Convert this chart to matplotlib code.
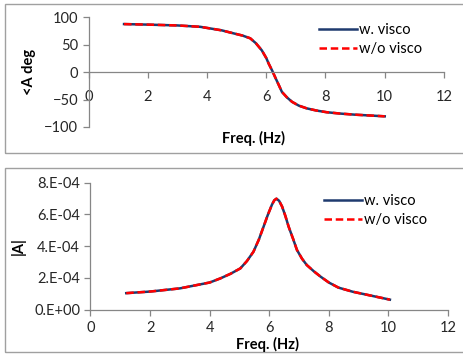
import numpy as np
import matplotlib
matplotlib.use("Agg")
import matplotlib.pyplot as plt
from matplotlib.patches import Rectangle
from matplotlib.ticker import FuncFormatter

# values
freq_phase = [1.2, 2.0, 3.0, 3.77, 4.5, 4.9, 5.2, 5.46, 5.65, 5.85, 6.0, 6.08, 6.2,
              6.3, 6.42, 6.53, 6.7, 6.87, 7.1, 7.37, 7.7, 8.04, 8.5, 9.0, 9.5, 10.0]
phase_visco = [88, 87, 85.5, 83, 76.5, 71, 67, 62, 53, 40, 26, 16, 3,
               -9, -23, -36, -46, -54, -61, -66, -70, -73, -75.5, -77.5, -79, -80.5]
phase_novisco = phase_visco

freq_amp = [1.2, 2.0, 3.0, 4.0, 4.36, 4.7, 5.03, 5.25, 5.47, 5.65, 5.81, 5.95, 6.09,
            6.17, 6.24, 6.33, 6.43, 6.54, 6.65, 6.8, 6.93, 7.1, 7.26, 7.5, 7.73,
            8.0, 8.32, 8.8, 9.3, 9.7, 10.05]
amp_visco = [1.03e-4, 1.13e-4, 1.33e-4, 1.7e-4, 1.96e-4, 2.25e-4, 2.59e-4, 3.05e-4,
             3.64e-4, 4.4e-4, 5.22e-4, 5.95e-4, 6.6e-4, 6.88e-4, 6.98e-4, 6.85e-4,
             6.49e-4, 5.9e-4, 5.22e-4, 4.45e-4, 3.75e-4, 3.2e-4, 2.8e-4, 2.4e-4,
             2.06e-4, 1.7e-4, 1.38e-4, 1.12e-4, 0.92e-4, 0.76e-4, 0.62e-4]
amp_novisco = amp_visco

series_names = ["w. visco", "w/o visco"]

W, H = 464, 356
fig = plt.figure(figsize=(W / 100, H / 100), dpi=100)
plt.rcParams['font.family'] = ['Lato', 'DejaVu Sans']

grey = "#868686"
navy = "#1F3A6E"
red = "#FF0000"


def px_axes(left, top, right, bottom):
    return fig.add_axes([left / W, 1 - bottom / H, (right - left) / W, (bottom - top) / H])


def style_axes(ax):
    for s in ["top", "right"]:
        ax.spines[s].set_visible(False)
    for s in ["left", "bottom"]:
        ax.spines[s].set_color(grey)
        ax.spines[s].set_linewidth(0.9)
    ax.tick_params(direction="out", length=4, color=grey, labelsize=10.5,
                   labelcolor="#262626", width=0.9)
    ax.set_xlim(0, 12)
    ax.set_xticks(range(0, 13, 2))


def draw_series(ax, x, y1, y2):
    ax.plot(x, y1, color=navy, lw=1.8, solid_joinstyle="round", label=series_names[0])
    ax.plot(x, y2, color=red, lw=1.8, ls=(0, (3, 1.5)), dash_joinstyle="round",
            label=series_names[1])


# chart borders
fig.patches.append(Rectangle((4.5 / W, 1 - 153 / H), 1.0, 149 / H,
                             transform=fig.transFigure, fill=False,
                             edgecolor="#A0A0A0", linewidth=1.0))
fig.patches.append(Rectangle((4.5 / W, 1 - 352 / H), 1.0, 184 / H,
                             transform=fig.transFigure, fill=False,
                             edgecolor="#A0A0A0", linewidth=1.0))

# top panel: phase
ax1 = px_axes(88.5, 17.5, 444, 127)
style_axes(ax1)
ax1.set_ylim(-100, 100)
ax1.set_yticks(range(-100, 101, 50))
ax1.spines["bottom"].set_position(("data", 0))
ax1.tick_params(axis="x", pad=9)
draw_series(ax1, freq_phase, phase_visco, phase_novisco)
ax1.set_ylabel("<A deg", fontsize=10.5, fontweight="bold", labelpad=6)
fig.text(254 / W, 1 - 138 / H, "Freq. (Hz)", ha="center", va="center",
         fontsize=10.5, fontweight="bold")
ax1.legend(loc="upper left", bbox_to_anchor=(312 / W, 1 - 16 / H), bbox_transform=fig.transFigure,
           frameon=False, fontsize=10.5, handlelength=2.6, handletextpad=0.1,
           labelspacing=0.35, borderpad=0)

# bottom panel: amplitude
ax2 = px_axes(90.5, 182.5, 448, 309.5)
style_axes(ax2)
ax2.set_ylim(0, 8e-4)
ax2.set_yticks(np.arange(0, 8.1e-4, 2e-4))
ax2.yaxis.set_major_formatter(FuncFormatter(
    lambda v, p: "%d.E%s%02d" % (round(v * 1e4), "+" if v == 0 else "-", 0 if v == 0 else 4)))
ax2.tick_params(axis="x", pad=4)
draw_series(ax2, freq_amp, amp_visco, amp_novisco)
ax2.set_ylabel("|A|", fontsize=10.5, fontweight="bold", labelpad=6)
fig.text(268 / W, 1 - 344.5 / H, "Freq. (Hz)", ha="center", va="center",
         fontsize=10.5, fontweight="bold")
ax2.legend(loc="upper left", bbox_to_anchor=(317 / W, 1 - 187 / H), bbox_transform=fig.transFigure,
           frameon=False, fontsize=10.5, handlelength=2.6, handletextpad=0.1,
           labelspacing=0.35, borderpad=0)

fig.savefig("out.png", dpi=100)
